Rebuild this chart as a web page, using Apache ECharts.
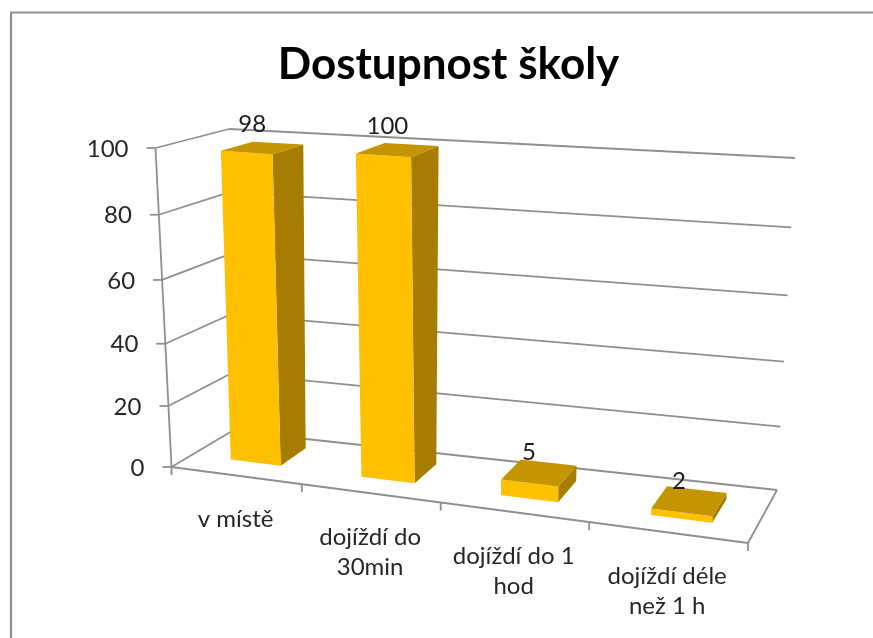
<!DOCTYPE html>
<html><head><meta charset="utf-8">
<style>html,body{margin:0;padding:0;background:#fff;overflow:hidden}#c{width:873px;height:638px}</style>
<script src="https://cdn.jsdelivr.net/npm/echarts@6/dist/echarts.min.js"></script>
</head><body><div id="c"></div>
<script>
const titleText = 'Dostupnost školy';
const categories = ['v místě', 'dojíždí do\n30min', 'dojíždí do 1\nhod', 'dojíždí déle\nnež 1 h'];
const values = [98, 100, 5, 2];
const yTicks = [0, 20, 40, 60, 80, 100];

const FONT = 'Lato';
const GRID = {left: 172, top: 148, width: 576, height: 320};
// corners of the 3D box on the screen: [depth: f=front,b=back][side l/r][height 0/1]
const BOX = {
  fl0: [171.5, 467], fr0: [748, 543], fl1: [155.5, 148], fr1: [753, 191],
  bl0: [232, 431], br0: [777, 490], bl1: [229, 129], br1: [795, 158]
};
const persp = (t, a) => a * t / (1 + (a - 1) * t);
const mix = (p, q, t) => [p[0] + (q[0] - p[0]) * t, p[1] + (q[1] - p[1]) * t];
function project(u, v, w) {
  const U = persp(u, 0.876), V = persp(v, 0.945);
  const f = mix(mix(BOX.fl0, BOX.fr0, U), mix(BOX.fl1, BOX.fr1, U), V);
  const b = mix(mix(BOX.bl0, BOX.br0, U), mix(BOX.bl1, BOX.br1, U), V);
  return mix(f, b, w);
}
// library scale -> unit box coordinates
const unitV = py => (GRID.top + GRID.height - py) / GRID.height;
const unitU = px => (px - GRID.left) / GRID.width;

const LINE = {stroke: '#8f8f8f', lineWidth: 1.8};
const seg = (p, q) => ({type: 'line', shape: {x1: p[0], y1: p[1], x2: q[0], y2: q[1]}, style: LINE, silent: true});
const poly = (pts, fill) => ({type: 'polygon', shape: {points: pts}, style: {fill}, silent: true});

const W0 = 0.35, W1 = 0.80, GAP = 0.305;

const option = {
  animation: false,
  backgroundColor: '#fff',
  title: {text: titleText, left: 443.5, top: 38, textAlign: 'center',
    textStyle: {fontFamily: FONT, fontWeight: 'bold', fontSize: 44, color: '#000'}},
  grid: {left: GRID.left, top: GRID.top, width: GRID.width, height: GRID.height},
  xAxis: {type: 'category', data: categories, axisLine: {show: false}, axisTick: {show: false}, axisLabel: {show: false}},
  yAxis: {type: 'value', min: 0, max: 100, interval: 20, axisLine: {show: false}, axisTick: {show: false}, axisLabel: {show: false}, splitLine: {show: false}},
  graphic: [{type: 'polyline', shape: {points: [[11, 660], [11, 12.5], [890, 12.5]]}, style: {fill: 'none', stroke: '#8f8f8f', lineWidth: 2.2}, silent: true}],
  series: [
    { // walls, floor, ticks, value labels
      type: 'custom', coordinateSystem: 'cartesian2d', clip: false, z: 1,
      data: yTicks.map(t => [0, t]),
      renderItem(params, api) {
        const v = unitV(api.coord([0, api.value(1)])[1]);
        const a = project(0, v, 0), b = project(0, v, 1), c = project(1, v, 1);
        const kids = [seg(a, b), seg(b, c), seg(a, [a[0] - 9, a[1]]),
          {type: 'text', style: {text: String(api.value(1)), x: a[0] - 27, y: a[1] + 1, align: 'right', verticalAlign: 'middle',
            font: '24px ' + FONT, fill: '#262626'}, silent: true}];
        if (params.dataIndex === 0) kids.push(seg(project(0, 0, 0), project(1, 0, 0)), seg(project(1, 0, 0), project(1, 0, 1)), seg(project(0, 0, 0), project(0, 1, 0)));
        return {type: 'group', children: kids};
      }
    },
    { // category ticks and labels
      type: 'custom', coordinateSystem: 'cartesian2d', clip: false, z: 2,
      data: categories.map((c, i) => [i, 0]),
      renderItem(params, api) {
        const i = api.value(0);
        const base = api.coord([i, 0]), bw = api.size([1, 0])[0];
        const e = project(unitU(base[0] + bw / 2), 0, 0), m = project(unitU(base[0]), 0, 0);
        const kids = [seg(e, [e[0], e[1] + 8])];
        if (i === 0) { const s = project(0, 0, 0); kids.push(seg(s, [s[0], s[1] + 8])); }
        kids.push({type: 'text', style: {text: categories[i], x: m[0], y: m[1] + 29, align: 'center', verticalAlign: 'top',
          font: '24px ' + FONT, lineHeight: 30, fill: '#262626'}, silent: true});
        return {type: 'group', children: kids};
      }
    },
    { // bars
      type: 'custom', coordinateSystem: 'cartesian2d', clip: false, z: 3,
      data: values.map((v, i) => [i, v]),
      renderItem(params, api) {
        const i = api.value(0), val = api.value(1);
        const base = api.coord([i, 0]), top = api.coord([i, val]), bw = api.size([1, 0])[0];
        const um = unitU(base[0]);
        const du = 0.009 * um;
        const ul = unitU(base[0] - bw / 2 + bw * GAP) + du;
        const ur = unitU(base[0] + bw / 2 - bw * GAP) + du;
        const vt = unitV(top[1]);
        const dw = 0.08 * um, w0 = W0 - dw, w1 = W1 - dw;
        const P = project;
        const front = poly([P(ul, 0, w0), P(ur, 0, w0), P(ur, vt, w0), P(ul, vt, w0)], '#FFC000');
        const side = poly([P(ur, 0, w0), P(ur, 0, w1), P(ur, vt, w1), P(ur, vt, w0)], '#A67D00');
        const cap = poly([P(ul, vt, w0), P(ur, vt, w0), P(ur, vt, w1), P(ul, vt, w1)], '#C49500');
        const c = P(um + du, vt, (w0 + w1) / 2);
        const label = {type: 'text', style: {text: String(val), x: c[0] - 10, y: c[1] - 12 + 4 * (1 - vt), align: 'center', verticalAlign: 'bottom',
          font: '24px ' + FONT, fill: '#1a1a1a'}, silent: true, z2: 10};
        return {type: 'group', children: [side, front, cap, label]};
      }
    }
  ]
};
echarts.init(document.getElementById('c'), null, {renderer: 'canvas'}).setOption(option);
</script></body></html>
